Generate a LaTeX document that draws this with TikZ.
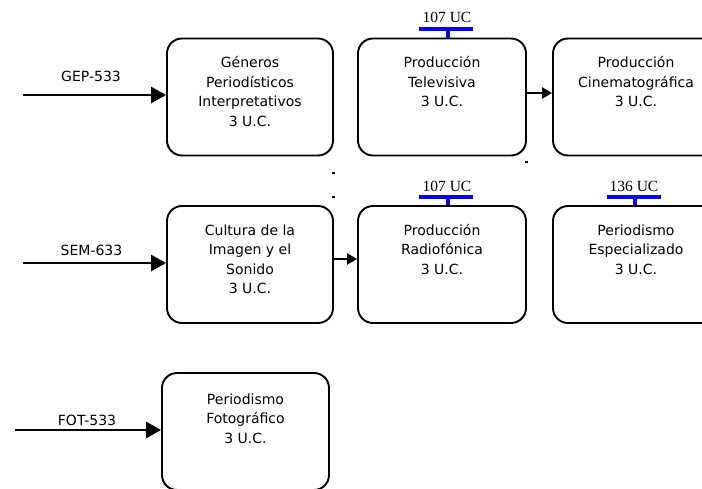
\documentclass[tikz,border=0pt]{standalone}
\usepackage{fontspec}
\setmainfont{DejaVu Sans}
\newfontfamily\ucfont{Liberation Serif}
\usetikzlibrary{arrows.meta}
\begin{document}
\begin{tikzpicture}[x=1pt,y=-1pt,
  course/.style={draw, line width=1.9pt, rounded corners=15pt, minimum width=166pt, minimum height=117pt, inner sep=0pt},
  lbl/.style={anchor=north, align=center, inner sep=0pt, font=\fontsize{14}{19.5}\selectfont},
  bigarrow/.style={line width=2.8pt, -{Triangle[length=15pt,width=16pt]}},
  smallarrow/.style={line width=2.1pt, -{Triangle[length=10pt,width=11pt]}},
  codelbl/.style={anchor=base, inner sep=0pt, font=\fontsize{14}{16}\selectfont},
  uc/.style={anchor=base, inner sep=0pt, font=\ucfont\fontsize{15.5}{17}\selectfont},
  bar/.style={draw=blue, line width=4pt},
  stem/.style={draw=blue, line width=3.5pt},
]
\useasboundingbox (0,0) rectangle (702,489);
\newcommand{\fl}{\rule{0pt}{14pt}}

% boxes
\node[course, minimum width=166pt] (b1) at (250,97) {};
\node[course, minimum width=168pt] (b2) at (442,97) {};
\node[course, minimum width=166pt] (b3) at (636,97) {};
\node[course, minimum width=166pt] (b4) at (250,264.5) {};
\node[course, minimum width=168pt] (b5) at (442,264.5) {};
\node[course, minimum width=166pt] (b6) at (636,264.5) {};
\node[course, minimum width=167pt] (b7) at (245.5,431.5) {};

% texts
\node[lbl] (t1) at ([yshift=-16pt]b1.north) {\fl G\'eneros\\Period\'isticos\\Interpretativos\\3 U.C.};
\node[lbl] (t2) at ([yshift=-16pt]b2.north) {\fl Producci\'on\\Televisiva\\3 U.C.};
\node[lbl] (t3) at ([yshift=-16pt]b3.north) {\fl Producci\'on\\Cinematogr\'afica\\3 U.C.};
\node[lbl] (t4) at ([yshift=-16pt]b4.north) {\fl Cultura de la\\Imagen y el\\Sonido\\3 U.C.};
\node[lbl] (t5) at ([yshift=-16pt]b5.north) {\fl Producci\'on\\Radiof\'onica\\3 U.C.};
\node[lbl] (t6) at ([yshift=-16pt]b6.north) {\fl Periodismo\\Especializado\\3 U.C.};
\node[lbl] (t7) at ([yshift=-18pt]b7.north) {\fl Periodismo\\Fotogr\'afico\\3 U.C.};

% incoming arrows
\coordinate (g0) at (23,95);
\coordinate (s0) at (23,263);
\coordinate (f0) at (15,430);
\draw[bigarrow] (g0) -- (g0 -| b1.west);
\draw[bigarrow] (s0) -- (s0 -| b4.west);
\draw[bigarrow] (f0) -- (f0 -| b7.west);
\node[codelbl] (lg) at (91,82) {GEP-533};
\node[codelbl] (ls) at (91.5,255.5) {SEM-633};
\node[codelbl] (lf) at (87,425) {FOT-533};

% box to box arrows
\coordinate (a23) at (526,93);
\draw[smallarrow] (a23) -- (a23 -| b3.west);
\coordinate (a45) at (333,259);
\draw[smallarrow] (a45) -- (a45 -| b5.west);

% credit bars
\draw[bar] (419,29) -- (473,29);
\draw[stem] (448,29) -- (b2.north -| 448,0);
\node[uc] (u2) at (447,23) {107 UC};
\draw[bar] (419,197) -- (473,197);
\draw[stem] (448,197) -- (b5.north -| 448,0);
\node[uc] (u5) at (447,192) {107 UC};
\draw[bar] (607,197) -- (661,197);
\draw[stem] (635,197) -- (b6.north -| 635,0);
\node[uc] (u6) at (634,192) {136 UC};

% stray dots
\fill (332,172) rectangle (334.5,174.5);
\fill (332,196) rectangle (334.5,198.5);
\fill (525,161) rectangle (527.5,163.5);
\end{tikzpicture}
\end{document}
